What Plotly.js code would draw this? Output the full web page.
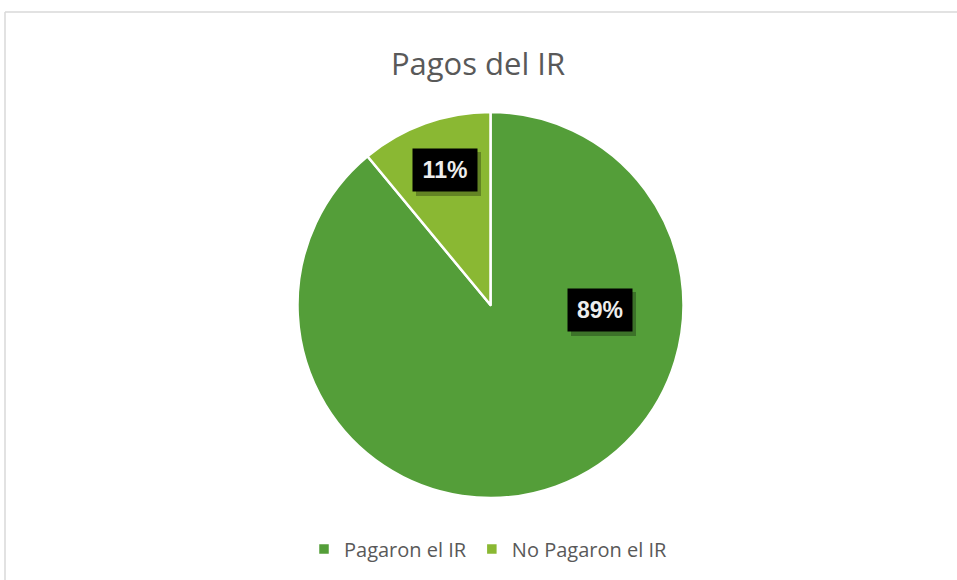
<!DOCTYPE html>
<html><head><meta charset="utf-8">
<script src="https://cdn.plot.ly/plotly-3.0.1.min.js"></script>
<style>html,body{margin:0;padding:0;background:#fff}#c{width:957px;height:580px}</style>
</head><body><div id="c"></div>
<script>
const categories = ["Pagaron el IR", "No Pagaron el IR"];
const values = [89, 11];
const labelsText = ["89%", "11%"];
const colors = ["#549E39", "#8AB833"];

const W = 957, H = 580;
const px = x => x / W, py = y => 1 - y / H;

// label box centres (Excel best-fit placement) and box size
const labelPos = [[600, 310], [445, 170]];
const boxW = 64, boxH = 42;

const annotations = [];
const shapes = [
  {type:'line', xref:'paper', yref:'paper', x0:px(5), x1:1, y0:py(12), y1:py(12), line:{color:'#D9D9D9', width:1.5}},
  {type:'line', xref:'paper', yref:'paper', x0:px(5), x1:px(5), y0:py(12), y1:0, line:{color:'#D9D9D9', width:1.5}}
];
labelsText.forEach((t, i) => {
  const [x, y] = labelPos[i];
  shapes.push({type:'rect', xref:'paper', yref:'paper', layer:'above',
    x0:px(x - boxW/2 + 3), x1:px(x + boxW/2 + 4), y0:py(y + boxH/2 + 5), y1:py(y - boxH/2 + 3),
    fillcolor:'rgba(0,0,0,0.28)', line:{width:0}});
  annotations.push({xref:'paper', yref:'paper', x:px(x), y:py(y), text:'<b>'+t+'</b>', showarrow:false,
    font:{family:'Arial', size:23, color:'#EDEDED'}, bgcolor:'#000000', borderpad:0,
    width:boxW, height:boxH, xanchor:'center', yanchor:'middle', align:'center', valign:'middle'});
});

const data = [{
  type:'pie', labels:categories, values:values, sort:false, direction:'clockwise', rotation:0,
  marker:{colors:colors, line:{color:'#ffffff', width:2.5}},
  textinfo:'none', hoverinfo:'label+percent',
  domain:{x:[px(297), px(684)], y:[py(498), py(112)]}
}];

const layout = {
  width:W, height:H, margin:{l:0,r:0,t:0,b:0},
  paper_bgcolor:'#ffffff',
  title:{text:'Pagos del IR', font:{family:'Open Sans', size:31, color:'#595959'}, x:px(478), xanchor:'center', y:py(64), yanchor:'middle'},
  showlegend:true,
  legend:{orientation:'h', x:px(304), xanchor:'left', y:py(549), yanchor:'middle',
    font:{family:'Open Sans', size:20, color:'#595959'}, itemwidth:30, traceorder:'normal'},
  annotations:annotations,
  shapes:shapes
};
Plotly.newPlot('c', data, layout, {displayModeBar:false, staticPlot:true});
</script></body></html>
